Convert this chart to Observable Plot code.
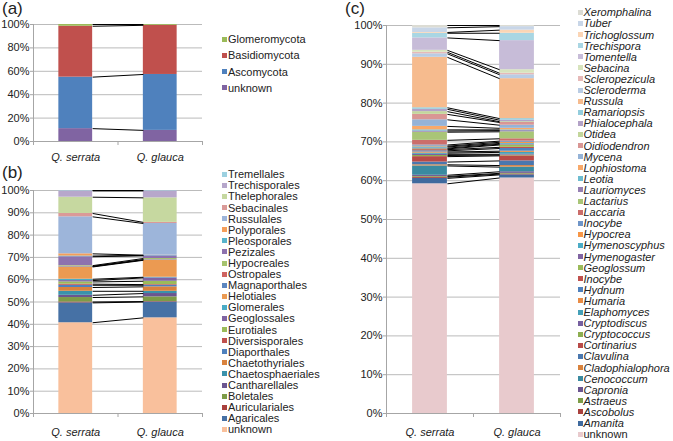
<!DOCTYPE html>
<html><head><meta charset="utf-8">
<script src="https://cdn.jsdelivr.net/npm/d3@7"></script>
<script src="https://cdn.jsdelivr.net/npm/@observablehq/plot@0.6"></script>
<style>
body{margin:0;background:#fff;font-family:"Liberation Sans",Arial,sans-serif;color:#222}
#root{position:relative;width:673px;height:441px;overflow:hidden;background:#fff}
.panel{position:absolute}
.tag{position:absolute;font-size:17px;line-height:16px;height:16px}
.item{position:absolute;white-space:nowrap;height:12px;line-height:12px;font-size:11px}
.sw{position:absolute;width:5px;height:5px;left:0;top:3.5px}
.lab{position:absolute;left:6px;top:0}
</style></head>
<body><div id="root"></div>
<script>
// ---------- data ----------
const groups = ["Q. serrata", "Q. glauca"];

// (a) phyla, stack order bottom -> top
const phyla = ["unknown", "Ascomycota", "Basidiomycota", "Glomeromycota"];
const phylaSerrata = [11.0, 44.0, 43.5, 1.5];
const phylaGlauca  = [9.5, 47.8, 42.0, 0.7];
const ticksA = [0, 20, 40, 60, 80, 100];

// (b) orders, stack order bottom -> top
const orders = ["unknown","Agaricales","Auriculariales","Boletales","Cantharellales","Chaetosphaeriales",
  "Chaetothyriales","Diaporthales","Diversisporales","Eurotiales","Geoglossales","Glomerales","Helotiales",
  "Magnaporthales","Ostropales","Hypocreales","Pezizales","Pleosporales","Polyporales","Russulales",
  "Sebacinales","Thelephorales","Trechisporales","Tremellales"];
const ordersSerrata = [40.7,8.9,0.4,2.0,1.0,1.8,1.7,1.0,0.5,1.0,0.6,0.6,5.5,0.2,0.1,0.3,4.0,0.3,1.0,16.6,1.5,7.3,2.8,0.2];
const ordersGlauca  = [42.9,7.1,0.2,2.1,1.5,1.0,2.0,0.7,0.3,1.5,1.5,0.3,7.6,0.2,0.1,0.5,1.2,0.2,0.1,14.2,0.5,11.0,3.1,0.2];
const ticksB = [0, 10, 20, 30, 40, 50, 60, 70, 80, 90, 100];

// (c) genera, stack order bottom -> top
const genera = ["unknown","Amanita","Ascobolus","Astraeus","Capronia","Cenococcum","Cladophialophora","Clavulina",
  "Cortinarius","Cryptococcus","Cryptodiscus","Elaphomyces","Humaria","Hydnum","Inocybe","Geoglossum",
  "Hymenogaster","Hymenoscyphus","Hypocrea","Inocybe","Laccaria","Lactarius","Lauriomyces","Leotia",
  "Lophiostoma","Mycena","Oidiodendron","Otidea","Phialocephala","Ramariopsis","Russula","Scleroderma",
  "Scleropezicula","Sebacina","Tomentella","Trechispora","Trichoglossum","Tuber","Xeromphalina"];
const generaSerrata = [59.2,1.4,0.3,0.2,0.3,2.4,0.3,0.7,1.4,0.3,0.3,0.3,0.3,0.3,0.3,0.2,0.2,0.3,0.2,0.3,
  1.2,2.1,0.3,0.3,0.9,1.7,1.4,0.7,0.6,0.4,13.0,0.9,0.4,0.5,3.2,1.2,0.2,1.2,0.6];
const generaGlauca  = [60.7,0.8,0.2,0.2,0.4,1.2,0.4,1.2,1.3,0.2,0.2,0.5,0.3,0.7,0.3,0.6,0.2,0.2,0.3,0.3,
  0.6,1.8,0.3,0.2,0.4,0.8,0.7,0.2,0.4,0.4,10.3,1.0,0.4,0.9,7.5,1.9,0.8,0.9,0.3];
const ticksC = [0, 10, 20, 30, 40, 50, 60, 70, 80, 90, 100];

// ---------- palettes ----------
const colorsA = ["#8064A2","#4F81BD","#C0504D","#9BBB59"];
const colorsB = ["#F9C09C","#4671A5","#A9403D","#7D9C47","#6B5590","#3A92AB","#D9823D","#4F81BD","#C0504D",
  "#9BBB59","#8064A2","#4BACC6","#EB9A52","#5B86BF","#CF6360","#A6C36E","#8E72AE","#59B4CC","#F59E5A",
  "#9DB5DA","#DA9A98","#C6D8A0","#B7A7CB","#9DD1E0"];
const colorsC = ["#E8CACD","#3F6A9E","#A9403D","#7D9C47","#6B5590","#3A8AA0","#D9823D","#4A77AE","#B84A47",
  "#8DAE50","#7660A0","#44A0B8","#E98C45","#4F81BD","#C0504D","#9BBB59","#8064A2","#4BACC6","#F79646",
  "#6F95C8","#CB6D6A","#A9C577","#9680B3","#6DBCD0","#F8A96A","#95B3D7","#D99694","#C3D69B","#B3A2C7",
  "#93CDDD","#F6BB8E","#B9CCE4","#E6B9B8","#D7E4BD","#C7BCD8","#A9D6E3","#FBD5B5","#C8D6E8","#DCDCD4"];

// ---------- drawing ----------
const root = document.getElementById("root");
const hw = 0.2; // half bar width in category units

function stackRows(vals, gi) {
  let c = 0;
  return vals.map((v, i) => { const y1 = c; c += v; return {gi, key: i, y1, y2: c}; });
}

function panel(o) {
  const keys = o.names.map((n, i) => i);
  const rowsA = stackRows(o.a, 0), rowsB = stackRows(o.b, 1);
  const links = keys.map(i => ({ya: rowsA[i].y2, yb: rowsB[i].y2}));
  const chart = Plot.plot({
    width: o.width, height: o.height,
    marginLeft: o.ml, marginRight: o.mr, marginTop: o.mt, marginBottom: o.mb,
    x: {type: "linear", domain: [0, 2], axis: null},
    y: {domain: [0, 100], axis: null},
    color: {type: "ordinal", domain: keys, range: o.colors},
    style: {fontFamily: '"Liberation Sans", Arial, sans-serif', fontSize: "11px", color: "#222", background: "transparent", overflow: "visible"},
    marks: [
      Plot.gridY(o.ticks, {stroke: "#BBBBBB", strokeOpacity: 1}),
      Plot.axisY(o.ticks, {tickSize: 3, tickPadding: 1, tickFormat: d => d + "%", stroke: "#A6A6A6", fill: "#222", label: null}),
      Plot.ruleX([0], {stroke: "#A6A6A6"}),
      Plot.rect(rowsA.concat(rowsB), {x1: d => d.gi + 0.5 - hw, x2: d => d.gi + 0.5 + hw, y1: "y1", y2: "y2", fill: "key"}),
      Plot.link(links, {x1: () => 0.5 + hw, x2: () => 1.5 - hw, y1: "ya", y2: "yb", stroke: "#000", strokeWidth: 1}),
      Plot.ruleY([0], {stroke: "#A6A6A6"}),
      Plot.axisX([0, 1, 2], {tickSize: 4, tickFormat: () => "", stroke: "#A6A6A6", label: null}),
      Plot.axisX([0.5, 1.5], {tickSize: 0, tickPadding: o.xpad, tickFormat: d => groups[Math.round(d - 0.5)], fontStyle: "italic", fill: "#222", label: null})
    ]
  });
  const wrap = document.createElement("div");
  wrap.className = "panel";
  wrap.style.left = o.left + "px"; wrap.style.top = o.top + "px";
  wrap.appendChild(chart);
  root.appendChild(wrap);

  // legend (reverse stacking order)
  const n = o.names.length;
  for (let k = 0; k < n; k++) {
    const i = n - 1 - k;
    const it = document.createElement("div");
    it.className = "item";
    it.style.left = o.legX + "px";
    it.style.top = (o.legY + k * o.legStep - 6) + "px";
    if (o.legItalic && o.names[i] !== "unknown") it.style.fontStyle = "italic";
    const sw = document.createElement("div");
    sw.className = "sw"; sw.style.background = o.colors[i];
    const lab = document.createElement("div");
    lab.className = "lab"; lab.textContent = o.names[i];
    it.appendChild(sw); it.appendChild(lab);
    root.appendChild(it);
  }
  const tag = document.createElement("div");
  tag.className = "tag"; tag.textContent = o.tag;
  tag.style.left = o.tagX + "px"; tag.style.top = o.tagY + "px";
  root.appendChild(tag);
}

panel({names: phyla, a: phylaSerrata, b: phylaGlauca, colors: colorsA, ticks: ticksA,
  left: 0, top: 0, width: 210, height: 165, ml: 33, mr: 8, mt: 24, mb: 24, xpad: 12,
  legX: 222, legY: 39, legStep: 16.3, legItalic: false, tag: "(a)", tagX: 2, tagY: 1});

panel({names: orders, a: ordersSerrata, b: ordersGlauca, colors: colorsB, ticks: ticksB,
  left: 0, top: 160, width: 210, height: 281, ml: 33, mr: 8, mt: 30, mb: 28, xpad: 15,
  legX: 222, legY: 174.3, legStep: 11.09, legItalic: false, tag: "(b)", tagX: 2, tagY: 165});

panel({names: genera, a: generaSerrata, b: generaGlauca, colors: colorsC, ticks: ticksC,
  left: 340, top: 0, width: 230, height: 441, ml: 46, mr: 10, mt: 25, mb: 28, xpad: 15,
  legX: 577.5, legY: 12.3, legStep: 11.1, legItalic: true, tag: "(c)", tagX: 345, tagY: 1});
</script>
</body></html>
